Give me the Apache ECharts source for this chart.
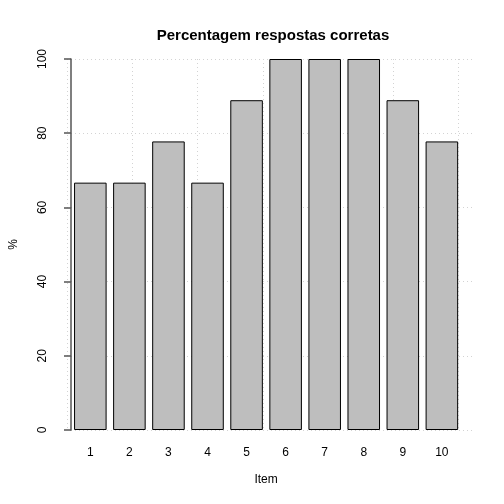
<!DOCTYPE html>
<html>
<head>
<meta charset="utf-8">
<script src="https://cdn.jsdelivr.net/npm/echarts@6/dist/echarts.min.js"></script>
<style>
  html, body { margin: 0; padding: 0; background: #fff; }
  #chart { width: 504px; height: 504px; }
</style>
</head>
<body>
<div id="chart"></div>
<script>
var items = ['1', '2', '3', '4', '5', '6', '7', '8', '9', '10'];
var pctCorrect = [66.67, 66.67, 77.78, 66.67, 88.89, 100, 100, 100, 88.89, 77.78];
var yTicks = [0, 20, 40, 60, 80, 100];

var myChart = echarts.init(document.getElementById('chart'), null, { renderer: 'canvas' });

var fontFam = 'Liberation Sans, Arial, sans-serif';
var gridLine = { show: true, lineStyle: { color: '#d3d3d3', type: [1, 3], width: 1 } };

option = {
    animation: false,
    title: {
        text: 'Percentagem respostas corretas',
        left: 268,
        textAlign: 'center',
        top: 23,
        textStyle: { fontFamily: fontFam, fontSize: 15, fontWeight: 'bold', color: '#000' }
    },
    grid: [
        // y axis + horizontal grid
        { left: 59, right: 30, top: 59, bottom: 74 },
        // vertical grid lines (0..12 in barplot units)
        { left: 67.5, right: 46, top: 59, bottom: 74 },
        // bars
        { left: 70.8, right: 42.6, top: 59, bottom: 74 }
    ],
    xAxis: [
        { gridIndex: 0, type: 'value', show: false, min: 0, max: 1 },
        {
            gridIndex: 1, type: 'value', min: 0, max: 12, interval: 2,
            axisLine: { show: false }, axisTick: { show: false }, axisLabel: { show: false },
            splitLine: gridLine
        },
        {
            gridIndex: 2, type: 'category', data: items,
            axisLine: { show: false }, axisTick: { show: false },
            axisLabel: { margin: 17, color: '#000', fontSize: 12, fontFamily: fontFam },
            name: 'Item', nameLocation: 'middle', nameGap: 44,
            nameTextStyle: { color: '#000', fontSize: 12, fontFamily: fontFam }
        }
    ],
    yAxis: [
        {
            gridIndex: 0, type: 'value', min: 0, max: 100, interval: 20,
            axisLine: { show: true, lineStyle: { color: '#555', width: 1.5 } },
            axisTick: { show: true, length: 7, lineStyle: { color: '#555', width: 1.5 } },
            axisLabel: {
                rotate: 90, margin: 22, color: '#000', fontSize: 12, fontFamily: fontFam,
                customValues: yTicks
            },
            splitLine: gridLine,
            name: '%', nameLocation: 'middle', nameGap: 51,
            nameTextStyle: { color: '#000', fontSize: 12, fontFamily: fontFam }
        },
        { gridIndex: 1, type: 'value', min: 0, max: 100, show: false, splitLine: { show: false } },
        { gridIndex: 2, type: 'value', min: 0, max: 100, show: false, splitLine: { show: false } }
    ],
    series: [
        {
            type: 'bar',
            xAxisIndex: 2,
            yAxisIndex: 2,
            data: pctCorrect,
            barCategoryGap: '16.67%',
            itemStyle: { color: '#bebebe', borderColor: '#000', borderWidth: 1 }
        }
    ]
};

myChart.setOption(option);
</script>
</body>
</html>
